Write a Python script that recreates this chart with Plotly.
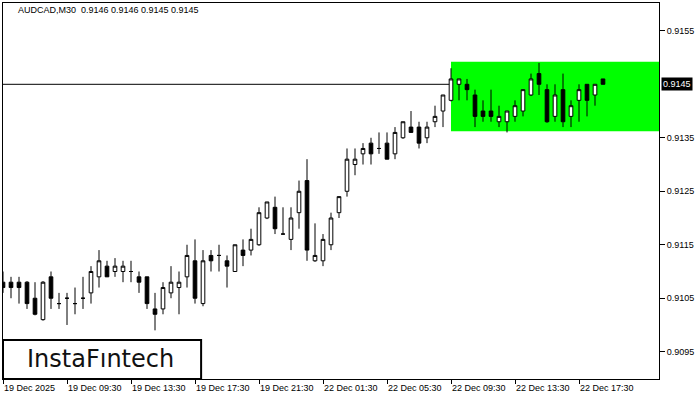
import plotly.graph_objects as go

# AUDCAD M30 bars, 19 Dec 2025 05:30 -> 22 Dec 2025 19:00 (index based like MT4)
opens = [0.91080, 0.91080, 0.91080, 0.91080, 0.91050, 0.91010, 0.91090, 0.91040, 0.91050, 0.91040,
         0.91050, 0.91060, 0.91090, 0.91110, 0.91100, 0.91100, 0.91100, 0.91090, 0.91090, 0.91030,
         0.91030, 0.91060, 0.91070, 0.91090, 0.91120, 0.91040, 0.91130, 0.91130, 0.91120, 0.91100,
         0.91140, 0.91140, 0.91150, 0.91200, 0.91220, 0.91170, 0.91160, 0.91210, 0.91270, 0.91120,
         0.91120, 0.91150, 0.91210, 0.91250, 0.91300, 0.91320, 0.91340, 0.91330, 0.91340, 0.91320,
         0.91350, 0.91370, 0.91370, 0.91350, 0.91380, 0.91400, 0.91420, 0.91450, 0.91450, 0.91430,
         0.91400, 0.91400, 0.91380, 0.91380, 0.91390, 0.91400, 0.91430, 0.91470, 0.91440, 0.91390,
         0.91440, 0.91390, 0.91420, 0.91450, 0.91430, 0.91460]
highs = [0.91100, 0.91090, 0.91090, 0.91082, 0.91080, 0.91082, 0.91100, 0.91060, 0.91060, 0.91070,
         0.91090, 0.91110, 0.91140, 0.91120, 0.91125, 0.91120, 0.91120, 0.91100, 0.91090, 0.91060,
         0.91080, 0.91110, 0.91100, 0.91150, 0.91160, 0.91140, 0.91140, 0.91150, 0.91130, 0.91150,
         0.91160, 0.91180, 0.91220, 0.91230, 0.91240, 0.91220, 0.91220, 0.91270, 0.91310, 0.91190,
         0.91170, 0.91210, 0.91240, 0.91330, 0.91330, 0.91340, 0.91350, 0.91360, 0.91360, 0.91370,
         0.91380, 0.91400, 0.91380, 0.91380, 0.91410, 0.91430, 0.91480, 0.91460, 0.91460, 0.91440,
         0.91420, 0.91440, 0.91410, 0.91400, 0.91420, 0.91440, 0.91470, 0.91490, 0.91450, 0.91450,
         0.91470, 0.91420, 0.91450, 0.91450, 0.91450, 0.91460]
lows = [0.91060, 0.91050, 0.91040, 0.91030, 0.91018, 0.91008, 0.91030, 0.91030, 0.91000, 0.91020,
        0.91030, 0.91040, 0.91070, 0.91090, 0.91090, 0.91080, 0.91080, 0.91060, 0.91030, 0.90990,
        0.91020, 0.91050, 0.91020, 0.91070, 0.91040, 0.91035, 0.91100, 0.91100, 0.91070, 0.91100,
        0.91110, 0.91130, 0.91148, 0.91198, 0.91170, 0.91170, 0.91140, 0.91180, 0.91120, 0.91118,
        0.91110, 0.91140, 0.91200, 0.91240, 0.91280, 0.91300, 0.91300, 0.91320, 0.91310, 0.91310,
        0.91348, 0.91360, 0.91330, 0.91340, 0.91370, 0.91370, 0.91418, 0.91420, 0.91420, 0.91370,
        0.91380, 0.91380, 0.91370, 0.91360, 0.91380, 0.91390, 0.91428, 0.91430, 0.91378, 0.91380,
        0.91370, 0.91370, 0.91380, 0.91390, 0.91410, 0.91450]
closes = [0.91070, 0.91070, 0.91070, 0.91040, 0.91020, 0.91080, 0.91050, 0.91040, 0.91050, 0.91040,
          0.91050, 0.91100, 0.91120, 0.91090, 0.91110, 0.91110, 0.91100, 0.91080, 0.91040, 0.91020,
          0.91070, 0.91080, 0.91080, 0.91130, 0.91050, 0.91120, 0.91120, 0.91130, 0.91110, 0.91150,
          0.91130, 0.91160, 0.91210, 0.91230, 0.91180, 0.91170, 0.91200, 0.91250, 0.91140, 0.91130,
          0.91160, 0.91200, 0.91240, 0.91310, 0.91310, 0.91330, 0.91320, 0.91330, 0.91310, 0.91360,
          0.91380, 0.91360, 0.91340, 0.91370, 0.91390, 0.91430, 0.91460, 0.91460, 0.91440, 0.91390,
          0.91390, 0.91390, 0.91390, 0.91400, 0.91410, 0.91440, 0.91460, 0.91450, 0.91380, 0.91430,
          0.91380, 0.91410, 0.91440, 0.91420, 0.91450, 0.91450]

tick_bars = [0, 8, 16, 24, 32, 40, 48, 56, 64, 72]
tick_text = ["19 Dec 2025", "19 Dec 09:30", "19 Dec 13:30", "19 Dec 17:30", "19 Dec 21:30",
             "22 Dec 01:30", "22 Dec 05:30", "22 Dec 09:30", "22 Dec 13:30", "22 Dec 17:30"]
# 0.9145 sits under the bid label box, so it is not listed here
price_ticks = [0.9095, 0.9105, 0.9115, 0.9125, 0.9135, 0.9155]

# pattern rectangle (flag) and current bid
rect_start = 56
rect_low, rect_high = 0.91362, 0.91492
bid = 0.9145

bars = list(range(len(opens)))
font = "Liberation Sans"

fig = go.Figure()
fig.add_trace(go.Candlestick(
    x=bars, open=opens, high=highs, low=lows, close=closes,
    increasing=dict(fillcolor="white", line=dict(color="black", width=1)),
    decreasing=dict(fillcolor="black", line=dict(color="black", width=1)),
    whiskerwidth=0, hoverinfo="skip", showlegend=False,
))

fig.add_shape(type="rect", xref="x", yref="y", x0=rect_start, x1=82, y0=rect_low, y1=rect_high,
              fillcolor="#00ff00", line=dict(width=0), layer="below")
fig.add_shape(type="line", xref="paper", yref="y", x0=0, x1=1, y0=bid, y1=bid,
              line=dict(color="black", width=1), layer="below")

# logo box
fig.add_shape(type="rect", xref="paper", yref="paper", x0=0, x1=0.302, y0=0, y1=0.104,
              fillcolor="white", line=dict(color="black", width=2), layer="above")
fig.add_annotation(text="InstaFıntech", xref="paper", yref="paper", x=0.149, y=0.054,
                   xanchor="center", yanchor="middle", showarrow=False,
                   font=dict(family="DejaVu Sans", size=24, color="#111111"))

fig.add_annotation(text="AUDCAD,M30  0.9146 0.9146 0.9145 0.9145", xref="paper", yref="paper",
                   x=0, y=0.981, xshift=13, xanchor="left", yanchor="middle", showarrow=False,
                   font=dict(family=font, size=9, color="black"))
fig.add_annotation(text="0.9145", xref="paper", yref="y", x=1, y=bid, xanchor="left", yanchor="middle",
                   xshift=2, showarrow=False, bgcolor="black", borderpad=1,
                   font=dict(family=font, size=9, color="white"))

fig.update_layout(
    width=700, height=400,
    margin=dict(l=3, r=41, t=3, b=21),
    paper_bgcolor="white", plot_bgcolor="white",
    boxgap=0.35,
    showlegend=False,
)
fig.update_xaxes(
    range=[0, 82], rangeslider=dict(visible=False),
    tickmode="array", tickvals=tick_bars, ticktext=tick_text,
    ticklabelposition="outside right",
    ticks="outside", ticklen=4, tickcolor="black",
    showgrid=False, zeroline=False,
    showline=True, linecolor="black", linewidth=1, mirror=True,
    tickfont=dict(family=font, size=9, color="black"),
)
fig.update_yaxes(
    range=[0.90899, 0.91602], side="right",
    tickmode="array", tickvals=price_ticks, ticktext=[f"{p:.4f}" for p in price_ticks],
    ticks="outside", ticklen=5, tickcolor="black",
    showgrid=False, zeroline=False,
    showline=True, linecolor="black", linewidth=1, mirror=True,
    tickfont=dict(family=font, size=9, color="black"),
)

# page body has an 8px default margin; drop it so the figure fills the 700x400 window
fig.write_html("out.html", config={"displayModeBar": False},
               post_script="document.body.style.margin='0';")
